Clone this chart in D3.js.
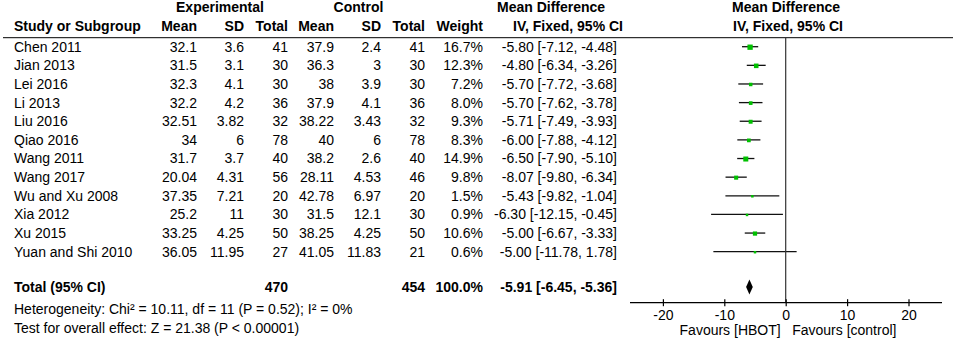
<!DOCTYPE html>
<html lang="en">
<head>
  <meta charset="UTF-8">
  <script src="https://d3js.org/d3.v7.min.js"></script>
  <title>Forest plot - Mean Difference</title>
  <style>
    body { margin: 0; background: #fff; }
    svg text { font-family: "Liberation Sans", Arial, sans-serif; font-size: 14px; fill: #000; }
    .b { font-weight: bold; }
  </style>
</head>
<body>
  <svg width="957" height="344"></svg>
  <script>
    const studies = ["Chen 2011", "Jian 2013", "Lei 2016", "Li 2013", "Liu 2016", "Qiao 2016",
      "Wang 2011", "Wang 2017", "Wu and Xu 2008", "Xia 2012", "Xu 2015", "Yuan and Shi 2010"];
    const expMean = [32.1, 31.5, 32.3, 32.2, 32.51, 34, 31.7, 20.04, 37.35, 25.2, 33.25, 36.05];
    const expSD = [3.6, 3.1, 4.1, 4.2, 3.82, 6, 3.7, 4.31, 7.21, 11, 4.25, 11.95];
    const expN = [41, 30, 30, 36, 32, 78, 40, 56, 20, 30, 50, 27];
    const ctrlMean = [37.9, 36.3, 38, 37.9, 38.22, 40, 38.2, 28.11, 42.78, 31.5, 38.25, 41.05];
    const ctrlSD = [2.4, 3, 3.9, 4.1, 3.43, 6, 2.6, 4.53, 6.97, 12.1, 4.25, 11.83];
    const ctrlN = [41, 30, 30, 36, 32, 78, 40, 46, 20, 30, 50, 21];
    const weight = [16.7, 12.3, 7.2, 8.0, 9.3, 8.3, 14.9, 9.8, 1.5, 0.9, 10.6, 0.6];
    const md = [-5.80, -4.80, -5.70, -5.70, -5.71, -6.00, -6.50, -8.07, -5.43, -6.30, -5.00, -5.00];
    const ciLow = [-7.12, -6.34, -7.72, -7.62, -7.49, -7.88, -7.90, -9.80, -9.82, -12.15, -6.67, -11.78];
    const ciHigh = [-4.48, -3.26, -3.68, -3.78, -3.93, -4.12, -5.10, -6.34, -1.04, -0.45, -3.33, 1.78];
    const total = {expN: 470, ctrlN: 454, weight: 100.0, md: -5.91, lo: -6.45, hi: -5.36};
    const tickValues = [-20, -10, 0, 10, 20];

    const rows = studies.map((s, i) => ({
      study: s, expMean: expMean[i], expSD: expSD[i], expN: expN[i],
      ctrlMean: ctrlMean[i], ctrlSD: ctrlSD[i], ctrlN: ctrlN[i],
      weight: weight[i], md: md[i], lo: ciLow[i], hi: ciHigh[i]
    }));

    const svg = d3.select("svg");
    const x = d3.scaleLinear().domain([-25, 25]).range([632.2, 939.2]);
    const y = d3.scaleLinear().domain([0, 11]).range([46.7, 251.7]);
    const totalY = y(12.9);
    const axisY = 302.7;

    // 표 열 (오른쪽 정렬 기준 x)
    const cols = [
      {key: "expMean", x: 197, f: d => String(d)},
      {key: "expSD", x: 244, f: d => String(d)},
      {key: "expN", x: 288, f: d => String(d)},
      {key: "ctrlMean", x: 334, f: d => String(d)},
      {key: "ctrlSD", x: 381, f: d => String(d)},
      {key: "ctrlN", x: 425, f: d => String(d)},
      {key: "weight", x: 483, f: d => d.toFixed(1) + "%"}
    ];

    // 헤더
    const hdr = [
      ["Experimental", 220, 7.5, "middle"], ["Control", 358.5, 7.5, "middle"],
      ["Mean Difference", 497, 7.5, "start"], ["Mean Difference", 732, 7.5, "start"],
      ["Study or Subgroup", 14, 26.5, "start"],
      ["Mean", 197, 26.5, "end"], ["SD", 244, 26.5, "end"], ["Total", 288, 26.5, "end"],
      ["Mean", 334, 26.5, "end"], ["SD", 381, 26.5, "end"], ["Total", 425, 26.5, "end"],
      ["Weight", 483, 26.5, "end"],
      ["IV, Fixed, 95% CI", 513, 26.5, "start"], ["IV, Fixed, 95% CI", 733, 26.5, "start"]
    ];
    svg.selectAll("text.hdr").data(hdr).enter().append("text")
      .attr("class", "hdr b")
      .attr("x", d => d[1]).attr("y", d => d[2]).attr("dy", "0.35em")
      .attr("text-anchor", d => d[3]).text(d => d[0]);

    svg.append("line").attr("x1", 3).attr("x2", 953).attr("y1", 37.7).attr("y2", 37.7)
      .attr("stroke", "#000").attr("stroke-width", 1);

    // 연구별 행
    const g = svg.selectAll("g.row").data(rows).enter().append("g").attr("class", "row")
      .attr("transform", (d, i) => `translate(0,${y(i)})`);
    g.append("text").attr("x", 14).attr("dy", "0.35em").text(d => d.study);
    cols.forEach(c => {
      g.append("text").attr("x", c.x).attr("dy", "0.35em").attr("text-anchor", "end")
        .text(d => c.f(d[c.key]));
    });
    g.append("text").attr("x", 617).attr("dy", "0.35em").attr("text-anchor", "end")
      .text(d => `${d.md.toFixed(2)} [${d.lo.toFixed(2)}, ${d.hi.toFixed(2)}]`);

    // zero line
    svg.append("line").attr("x1", x(0)).attr("x2", x(0)).attr("y1", 37.7).attr("y2", axisY)
      .attr("stroke", "#333").attr("stroke-width", 1.2);

    // CI lines and squares
    g.append("line").attr("x1", d => x(d.lo)).attr("x2", d => x(d.hi))
      .attr("stroke", "#111").attr("stroke-width", 1.3);
    g.append("rect")
      .each(function(d) {
        const s = Math.max(2.5, 1.3 * Math.sqrt(d.weight));
        d3.select(this).attr("x", x(d.md) - s / 2).attr("y", -s / 2 + 0.5)
          .attr("width", s).attr("height", s);
      })
      .attr("fill", "#00c000");

    // total row
    const tg = svg.append("g").attr("transform", `translate(0,${totalY})`);
    tg.append("text").attr("class", "b").attr("x", 14).attr("dy", "0.35em").text("Total (95% CI)");
    tg.append("text").attr("class", "b").attr("x", 288).attr("dy", "0.35em").attr("text-anchor", "end").text(total.expN);
    tg.append("text").attr("class", "b").attr("x", 425).attr("dy", "0.35em").attr("text-anchor", "end").text(total.ctrlN);
    tg.append("text").attr("class", "b").attr("x", 483).attr("dy", "0.35em").attr("text-anchor", "end").text(total.weight.toFixed(1) + "%");
    tg.append("text").attr("class", "b").attr("x", 617).attr("dy", "0.35em").attr("text-anchor", "end")
      .text(`${total.md.toFixed(2)} [${total.lo.toFixed(2)}, ${total.hi.toFixed(2)}]`);
    tg.append("path")
      .attr("d", `M${x(total.lo)},0 L${x(total.md)},-7.5 L${x(total.hi)},0 L${x(total.md)},7.5 Z`)
      .attr("fill", "#000");

    svg.append("text").attr("x", 14).attr("y", 309).attr("dy", "0.35em")
      .text("Heterogeneity: Chi\u00b2 = 10.11, df = 11 (P = 0.52); I\u00b2 = 0%");
    svg.append("text").attr("x", 14).attr("y", 327.7).attr("dy", "0.35em")
      .text("Test for overall effect: Z = 21.38 (P < 0.00001)");

    // 축 - 눈금선은 축선을 가로지름
    const axis = d3.axisBottom(x).tickValues(tickValues).tickSize(3.5).tickPadding(0)
      .tickFormat(d => String(d));
    const ag = svg.append("g").attr("transform", `translate(0,${axisY})`).call(axis);
    ag.select(".domain").remove();
    ag.selectAll(".tick line").attr("y1", -3.5).attr("stroke", "#000").attr("stroke-width", 1.2);
    ag.selectAll(".tick text").attr("y", 7.5);
    ag.attr("font-size", null).attr("font-family", null);
    svg.append("line").attr("x1", 630).attr("x2", 942).attr("y1", axisY).attr("y2", axisY)
      .attr("stroke", "#000").attr("stroke-width", 1.2);

    svg.append("text").attr("x", x(0) - 5).attr("y", 330).attr("dy", "0.35em").attr("text-anchor", "end")
      .text("Favours [HBOT]");
    svg.append("text").attr("x", x(0) + 6.5).attr("y", 330).attr("dy", "0.35em")
      .text("Favours [control]");
  </script>
</body>
</html>
